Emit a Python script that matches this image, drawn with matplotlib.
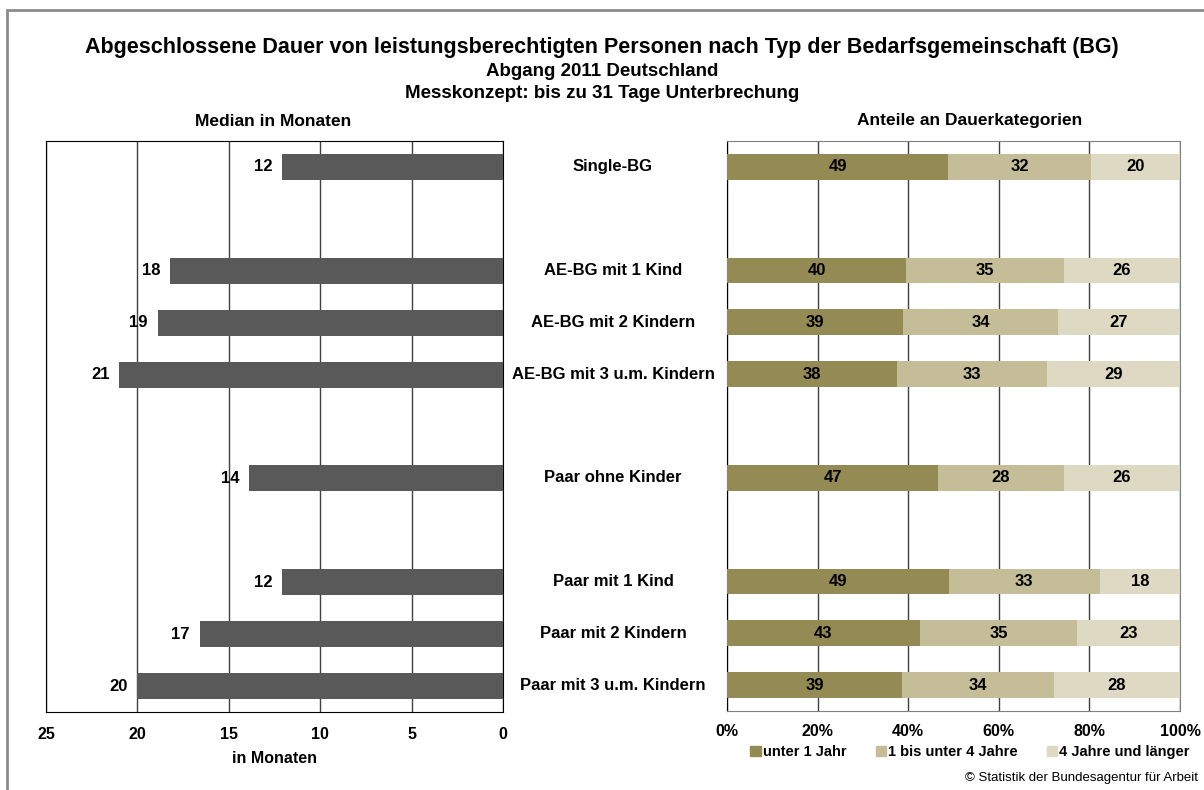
import numpy as np
import matplotlib
matplotlib.use("Agg")
import matplotlib.pyplot as plt
from matplotlib.patches import Rectangle

plt.rcParams["font.family"] = ["Liberation Sans", "DejaVu Sans"]

# groups of BG types (an empty row is left between groups)
groups = [
    ["Single-BG"],
    ["AE-BG mit 1 Kind", "AE-BG mit 2 Kindern", "AE-BG mit 3 u.m. Kindern"],
    ["Paar ohne Kinder"],
    ["Paar mit 1 Kind", "Paar mit 2 Kindern", "Paar mit 3 u.m. Kindern"],
]
median_months = [12.1, 18.2, 18.9, 21.0, 13.9, 12.1, 16.6, 20.0]
share_lt1 = [48.8, 39.6, 38.9, 37.6, 46.6, 48.9, 42.6, 38.6]
share_1to4 = [31.6, 34.8, 34.2, 33.1, 27.8, 33.4, 34.7, 33.6]
share_ge4 = [19.6, 25.6, 26.9, 29.3, 25.6, 17.7, 22.7, 27.8]
series_names = ["unter 1 Jahr", "1 bis unter 4 Jahre", "4 Jahre und länger"]
series_colors = ["#948a54", "#c4bd97", "#ddd9c3"]
left_ticks = [25, 20, 15, 10, 5, 0]
right_ticks = [0, 20, 40, 60, 80, 100]

# row positions with a blank slot between groups
categories, ypos = [], []
slot = 0
for g in groups:
    for c in g:
        categories.append(c)
        ypos.append(slot)
        slot += 1
    slot += 1
n_slots = slot - 1
ypos = np.array(ypos)

W, H = 1204, 790
fig = plt.figure(figsize=(W / 100, H / 100), dpi=100)
# outer frame: only the left and top edges fall inside the picture
fig.patches.append(Rectangle((7 / W, -0.05), 1.2, 1.05 - 10 / H, transform=fig.transFigure,
                             fill=False, edgecolor="#8c8c8c", lw=2))

def px_box(x0, y0, x1, y1):
    return [x0 / W, 1 - y1 / H, (x1 - x0) / W, (y1 - y0) / H]

bold = dict(fontweight="bold")

# left panel: median
axl = fig.add_axes(px_box(46, 141, 503, 712))
axl.barh(ypos, median_months, height=0.5, color="#595959", zorder=3)
for y, v in zip(ypos, median_months):
    axl.annotate(f"{v:.0f}", (v, y), xytext=(-7, 0), textcoords="offset points",
                 ha="right", va="center", fontsize=12, **bold)
axl.set_xlim(25, 0)
axl.set_ylim(n_slots - 0.5, -0.5)
axl.set_xticks(left_ticks)
axl.set_xticklabels([str(t) for t in left_ticks], fontsize=11.5, **bold)
axl.set_yticks([])
axl.tick_params(axis="x", length=0, pad=11)
axl.grid(axis="x", color="#404040", lw=1, zorder=0)
for s in axl.spines.values():
    s.set_color("black")
axl.set_xlabel("in Monaten", fontsize=11.5, labelpad=6, **bold)

# right panel: shares
axr = fig.add_axes(px_box(727, 141, 1180, 711))
left = np.zeros(len(categories))
for vals, col in zip([share_lt1, share_1to4, share_ge4], series_colors):
    vals = np.array(vals)
    axr.barh(ypos, vals, left=left, height=0.5, color=col, zorder=3)
    for y, l, v in zip(ypos, left, vals):
        axr.text(l + v / 2, y, f"{v:.0f}", ha="center", va="center",
                 fontsize=12, zorder=4, **bold)
    left += vals
axr.set_xlim(0, 100)
axr.set_ylim(n_slots - 0.5, -0.5)
axr.set_xticks(right_ticks)
axr.set_xticklabels([f"{t}%" for t in right_ticks], fontsize=11.5, **bold)
axr.set_yticks([])
axr.tick_params(axis="x", length=0, pad=9)
axr.grid(axis="x", color="#404040", lw=1, zorder=0)
axr.spines["left"].set_color("black")
for k in ["top", "bottom", "right"]:
    axr.spines[k].set_color("#808080")

handles = [Rectangle((0, 0), 1, 1, color=c) for c in series_colors]
fig.legend(handles, series_names, loc="center", bbox_to_anchor=(970 / W, 1 - 752 / H),
           ncol=3, frameon=False, handlelength=0.7, handleheight=0.7,
           handletextpad=0.15, columnspacing=2.0, prop=dict(weight="bold", size=10.5))

# category labels between the panels
for y, c in zip(ypos, categories):
    yf = axr.transData.transform((0, y))[1]
    fig.text(613 / W, fig.transFigure.inverted().transform((0, yf))[1], c,
             ha="center", va="center", fontsize=12, **bold)

fig.text(0.5, 1 - 47 / H, "Abgeschlossene Dauer von leistungsberechtigten Personen nach Typ der Bedarfsgemeinschaft (BG)",
         ha="center", va="center", fontsize=15.5, **bold)
fig.text(0.5, 1 - 71 / H, "Abgang 2011 Deutschland", ha="center", va="center", fontsize=13.5, **bold)
fig.text(0.5, 1 - 93 / H, "Messkonzept: bis zu 31 Tage Unterbrechung", ha="center", va="center",
         fontsize=13.5, **bold)
fig.text(273 / W, 1 - 121 / H, "Median in Monaten", ha="center", va="center", fontsize=12.5, **bold)
fig.text(970 / W, 1 - 121 / H, "Anteile an Dauerkategorien", ha="center", va="center", fontsize=12.5, **bold)
fig.text(1198 / W, 1 - 778 / H, "© Statistik der Bundesagentur für Arbeit", ha="right", va="center",
         fontsize=9.5)

fig.savefig("out.png", dpi=100)
